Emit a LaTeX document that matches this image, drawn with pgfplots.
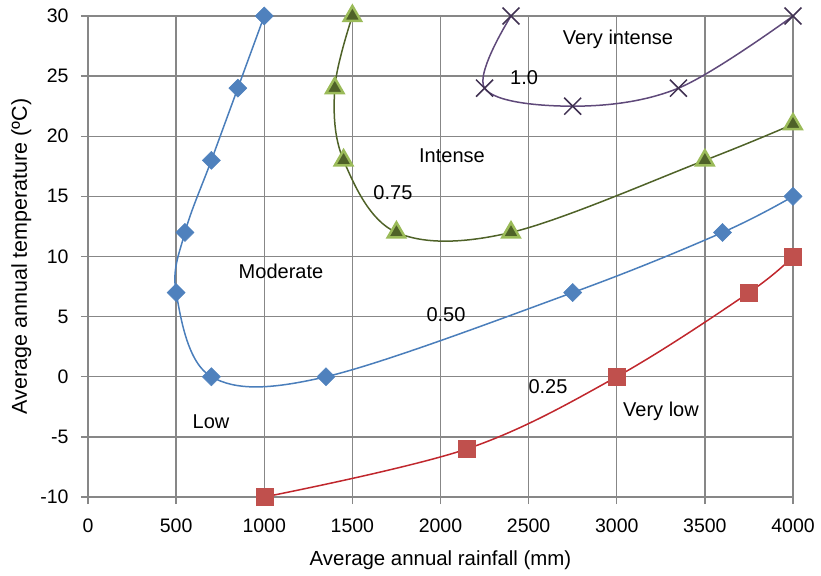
\documentclass[border=0pt]{standalone}
\usepackage{pgfplots}
\pgfplotsset{compat=1.18}
\usepackage{fontspec}
\setmainfont{Liberation Sans}
\definecolor{gridc}{HTML}{878787}
\definecolor{bluel}{HTML}{4A7EBB}
\definecolor{bluem}{HTML}{4F81BD}
\definecolor{greenl}{HTML}{4F6228}
\definecolor{greenm}{HTML}{9BBB59}
\definecolor{purl}{HTML}{5F497A}
\definecolor{purm}{HTML}{403152}
\definecolor{redl}{HTML}{C0272D}
\definecolor{redm}{HTML}{C0504D}
\begin{document}
\begin{tikzpicture}
\begin{axis}[
  scale only axis,
  width=705pt, height=481pt,
  xmin=0, xmax=4000, ymin=-10, ymax=30,
  xtick={0,500,...,4000}, ytick={-10,-5,...,30},
  grid=major,
  grid style={gridc, line width=1.3pt},
  axis line style={gridc, line width=1.3pt},
  axis lines*=left,
  tick style={gridc, line width=1.3pt},
  tick align=outside,
  major tick length=7pt,
  /pgf/number format/assume math mode=true,
  /pgf/number format/1000 sep={},
  xticklabel style={font=\fontsize{19.5}{23}\selectfont, yshift=-11pt},
  yticklabel style={font=\fontsize{19.5}{23}\selectfont, xshift=-9pt},
  xlabel={Average annual rainfall (mm)},
  ylabel={Average annual temperature (ºC)},
  xlabel style={font=\fontsize{20.4}{24}\selectfont, yshift=-12pt},
  ylabel style={font=\fontsize{21.5}{24}\selectfont, yshift=2pt},
  clip=false,
  every axis plot/.append style={smooth, tension=0.58, line width=1.5pt},
]
% 0.50 blue
\addplot[bluel, mark=square*, mark size=6.4pt, mark options={rotate=45, fill=bluem, draw=bluem, line width=0.5pt}] coordinates {
(1000,30) (850,24) (700,18) (550,12) (500,7) (700,0) (1350,0) (2750,7) (3600,12) (4000,15)};
% 0.75 green
\addplot[greenl, mark=triangle*, mark size=10pt, mark options={fill=greenl, draw=greenm, line width=2.5pt}] coordinates {
(1500,30) (1400,24) (1450,18) (1750,12) (2400,12) (3500,18) (4000,21)};
% 1.0 purple
\addplot[purl, mark=x, mark size=12pt, mark options={draw=purm, line width=1.5pt}] coordinates {
(2400,30) (2250,24) (2750,22.5) (3350,24) (4000,30)};
% 0.25 red
\addplot[redl, mark=square*, mark size=8.5pt, mark options={fill=redm, draw=redm, line width=0.5pt}] coordinates {
(1000,-10) (2150,-6) (3000,0) (3750,7) (4000,10)};
\begin{scope}[every node/.style={font=\fontsize{20}{24}\selectfont, inner sep=0pt}]
\node at (axis cs:3007,28.1) {Very intense};
\node at (axis cs:2474,24.9) {1.0};
\node at (axis cs:2065,18.4) {Intense};
\node at (axis cs:1730,15.3) {0.75};
\node at (axis cs:1095,8.8) {Moderate};
\node at (axis cs:2031,5.2) {0.50};
\node at (axis cs:2610,-0.8) {0.25};
\node at (axis cs:3251,-2.9) {Very low};
\node at (axis cs:698,-3.7) {Low};
\end{scope}
\end{axis}
\pgfresetboundingbox
\path[use as bounding box] ([xshift=-88pt,yshift=-78pt]current axis.south west) rectangle ([xshift=28pt,yshift=16pt]current axis.north east);
\end{tikzpicture}
\end{document}
